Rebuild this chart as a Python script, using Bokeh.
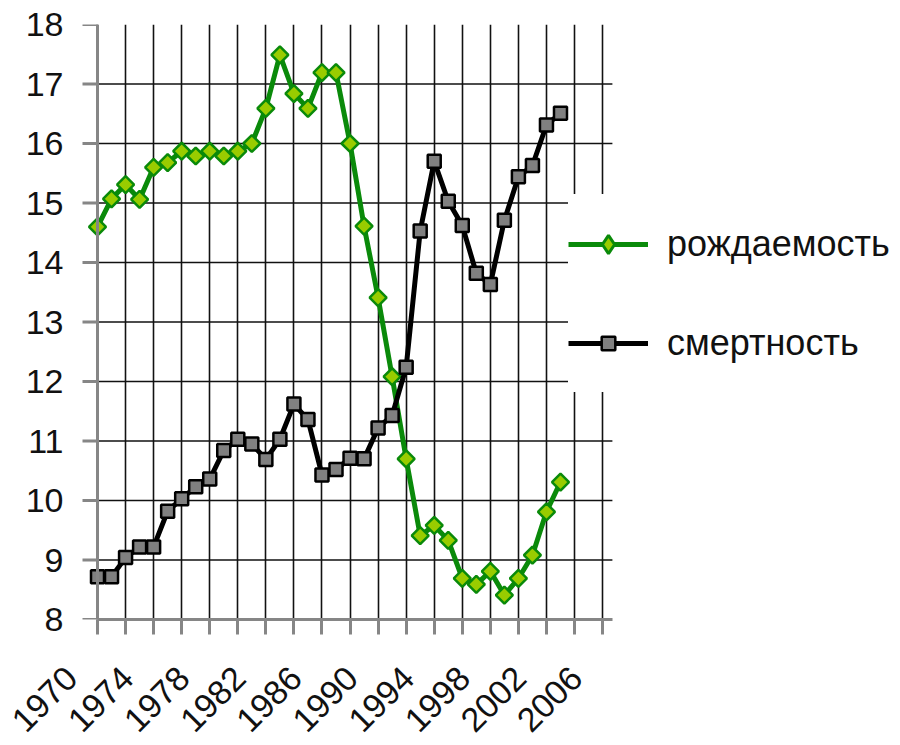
import numpy as np
from bokeh.plotting import figure
from bokeh.models import FixedTicker, Range1d, Legend, LegendItem, LinearAxis, Span
from bokeh.embed import file_html
from bokeh.resources import INLINE

years = list(range(1970, 2004))
birth = [14.60, 15.07, 15.31, 15.06, 15.60, 15.68, 15.87, 15.79, 15.87, 15.79,
         15.87, 16.00, 16.59, 17.49, 16.84, 16.59, 17.19, 17.19, 16.00, 14.61,
         13.41, 12.08, 10.70, 9.41, 9.58, 9.33, 8.69, 8.59, 8.81, 8.41,
         8.69, 9.08, 9.81, 10.31]
death = [8.72, 8.72, 9.04, 9.22, 9.22, 9.82, 10.03, 10.23, 10.36, 10.84,
         11.03, 10.95, 10.69, 11.03, 11.62, 11.36, 10.43, 10.52, 10.71, 10.70,
         11.22, 11.43, 12.24, 14.53, 15.70, 15.03, 14.62, 13.82, 13.63, 14.71,
         15.44, 15.63, 16.31, 16.51]
tick_years = list(range(1970, 2007, 2))
label_years = list(range(1970, 2007, 4))
y_ticks = list(range(8, 19))
grid_y = list(range(9, 18))
series_names = ["рождаемость", "смертность"]

# layout constants (pixels / style)
W, H = 896, 745
AXIS_PX = 97          # screen x of the first year
PAD_PX = 27           # frame starts this far left of the y axis line
TICK_PX = 15          # y tick length
LEFT, TOP, BOTTOM = AXIS_PX - PAD_PX, 24, 119
PX_PER_YEAR = 14.03
X0 = 1970
X_START = X0 - PAD_PX / PX_PER_YEAR
X_END = X_START + (W - LEFT) / PX_PER_YEAR
AXIS_END = 2006.7
LABEL_SHIFT = 1.86   # years, slides rotated labels left of their ticks

p = figure(width=W, height=H, output_backend="svg", toolbar_location=None,
           x_range=Range1d(X_START, X_END), y_range=Range1d(8, 18),
           min_border_left=LEFT, min_border_right=0, min_border_top=TOP,
           min_border_bottom=BOTTOM)
p.outline_line_color = None
p.background_fill_color = "white"

AX = "#868686"
FONT = "Liberation Sans"

ya = p.yaxis[0]
ya.ticker = FixedTicker(ticks=y_ticks)
ya.axis_line_color = None
ya.major_tick_line_color = None
ya.major_tick_out = 0
ya.major_tick_in = 0
ya.minor_tick_line_color = None
ya.major_label_text_font = FONT
ya.major_label_text_color = "#111111"
ya.major_label_text_font_size = "34px"
ya.major_label_standoff = 7

# y axis line and its outward ticks
p.add_layout(Span(location=X0, dimension="height", line_color=AX, line_width=3))
p.segment(x0=[X0 - TICK_PX / PX_PER_YEAR] * len(y_ticks), x1=[X0] * len(y_ticks),
          y0=y_ticks, y1=y_ticks, line_color=AX, line_width=3)

xa = p.xaxis[0]
xa.ticker = FixedTicker(ticks=tick_years)
xa.bounds = (X0, AXIS_END)
xa.axis_line_color = AX
xa.axis_line_width = 3
xa.major_tick_line_color = AX
xa.major_tick_line_width = 3
xa.major_tick_out = 15
xa.major_tick_in = 0
xa.minor_tick_line_color = None
xa.major_label_overrides = {y: "" for y in tick_years}
xa.major_label_text_font_size = "0px"
xa.major_label_standoff = 0

shifted = [y - LABEL_SHIFT for y in label_years]
la = LinearAxis(ticker=FixedTicker(ticks=shifted),
                major_label_overrides={s: str(y) for s, y in zip(shifted, label_years)})
la.axis_line_color = None
la.major_tick_line_color = None
la.minor_tick_line_color = None
la.major_tick_out = 0
la.major_tick_in = 0
la.major_label_orientation = np.pi / 4
la.major_label_text_font = FONT
la.major_label_text_font_size = "34px"
la.major_label_text_color = "#111111"
la.major_label_standoff = 38
p.add_layout(la, "below")

p.xgrid.ticker = FixedTicker(ticks=tick_years)
p.xgrid.grid_line_color = "#111111"
p.xgrid.grid_line_width = 1.6
p.ygrid.grid_line_color = None

p.segment(x0=[X0] * len(grid_y), x1=[AXIS_END] * len(grid_y), y0=grid_y, y1=grid_y,
          line_color="#111111", line_width=1.6)

gl = p.line(years, birth, line_color="#0a8a0a", line_width=5)
gs = p.scatter(years, birth, marker="square", angle=np.pi / 4, size=12,
               fill_color="#99cc00", line_color="#0a8a0a", line_width=2.5)
bl = p.line(years, death, line_color="black", line_width=5)
bs = p.scatter(years, death, marker="square", size=13,
               fill_color="#808080", line_color="black", line_width=2.5)

# legend-only marker for the diamond (a single NaN point is never drawn in the plot)
lg = p.scatter(x=[np.nan], y=[np.nan], marker="diamond", fill_color="#99cc00",
               line_color="#0a8a0a", line_width=3)


def make_legend(item, y, glyph_h):
    lgd = Legend(items=[item], location=(568 - LEFT, y))
    lgd.background_fill_color = "white"
    lgd.background_fill_alpha = 1
    lgd.border_line_color = None
    lgd.padding = 0
    lgd.margin = 0
    lgd.glyph_width = 80
    lgd.glyph_height = glyph_h
    lgd.label_height = 99
    lgd.spacing = 0
    lgd.label_standoff = 19
    lgd.label_text_font = FONT
    lgd.label_text_font_size = "36px"
    lgd.label_text_color = "#111111"
    return lgd


p.add_layout(make_legend(LegendItem(label=series_names[0], renderers=[gl, lg]), 326, 46), "center")
p.add_layout(make_legend(LegendItem(label=series_names[1], renderers=[bl, bs]), 227, 34), "center")

open("out.html", "w").write(file_html(p, INLINE))
